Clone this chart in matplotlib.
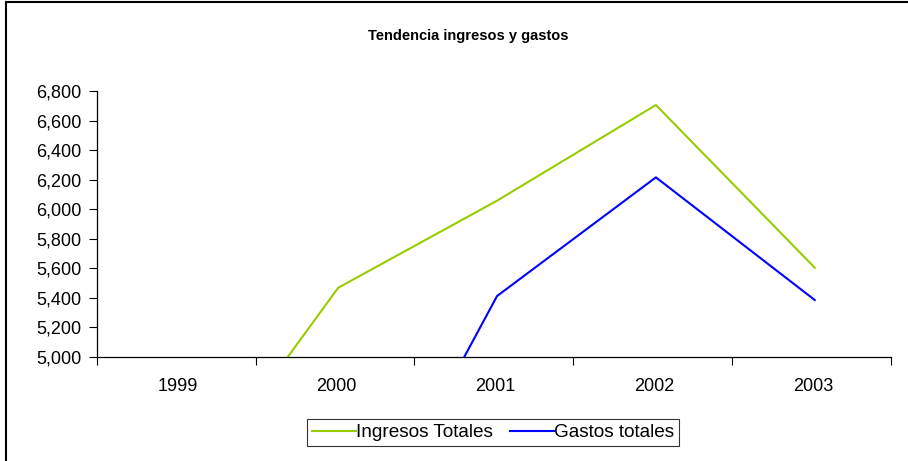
import matplotlib
matplotlib.use("Agg")
from matplotlib import pyplot as plt
from matplotlib.lines import Line2D
from matplotlib.ticker import FuncFormatter

years = ["1999", "2000", "2001", "2002", "2003"]
ingresos = [3990, 5467, 6057, 6705, 5603]
gastos = [3200, 3411, 5411, 6215, 5384]

plt.rcParams['font.family'] = ['Liberation Sans', 'DejaVu Sans']

fig = plt.figure(figsize=(9.08, 4.61), dpi=100)
ax = fig.add_axes([0.1065, 0.2262, 0.8748, 0.5764])

x = [i + 0.02 for i in range(len(years))]
ax.plot(x, ingresos, color="#99CC00", lw=1.5, label="Ingresos Totales")
ax.plot(x, gastos, color="#0000FF", lw=1.5, label="Gastos totales")

ax.set_xlim(-0.5, len(years) - 0.5)
ax.set_ylim(5000, 6800)
ax.set_yticks(range(5000, 6801, 200))
ax.yaxis.set_major_formatter(FuncFormatter(lambda v, p: f"{int(v):,}"))
ax.set_xticks([i + 0.01 for i in range(len(years))])
ax.set_xticklabels(years)
ax.set_xticks([i - 0.5 for i in range(len(years) + 1)], minor=True)
ax.tick_params(axis="x", which="major", length=0, pad=15, labelsize=13)
ax.tick_params(axis="x", which="minor", length=6, width=0.8, direction="out")
ax.tick_params(axis="y", length=6, width=0.8, direction="out", pad=5, labelsize=13)

for s in ["top", "right"]:
    ax.spines[s].set_visible(False)
for s in ["left", "bottom"]:
    ax.spines[s].set_linewidth(0.9)

fig.text(468 / 908, 1 - 36 / 461, "Tendencia ingresos y gastos", ha="center", va="center",
         fontsize=10.5, fontweight="bold")

leg = fig.legend(loc="center", bbox_to_anchor=(493 / 908, 1 - 432.5 / 461), ncol=2,
                 fontsize=13.7, frameon=True, fancybox=False, handlelength=2.3,
                 handletextpad=0.0, columnspacing=0.9, borderpad=0.25)
leg.get_frame().set_edgecolor("black")
leg.get_frame().set_linewidth(0.8)

# outer chart border (left and top visible)
fig.add_artist(Line2D([6 / 908, 6 / 908], [0, 1 - 2 / 461], color="black", lw=1.5,
                      transform=fig.transFigure))
fig.add_artist(Line2D([6 / 908, 1], [1 - 2 / 461, 1 - 2 / 461], color="black", lw=1.5,
                      transform=fig.transFigure))

fig.savefig("out.png", dpi=100)
